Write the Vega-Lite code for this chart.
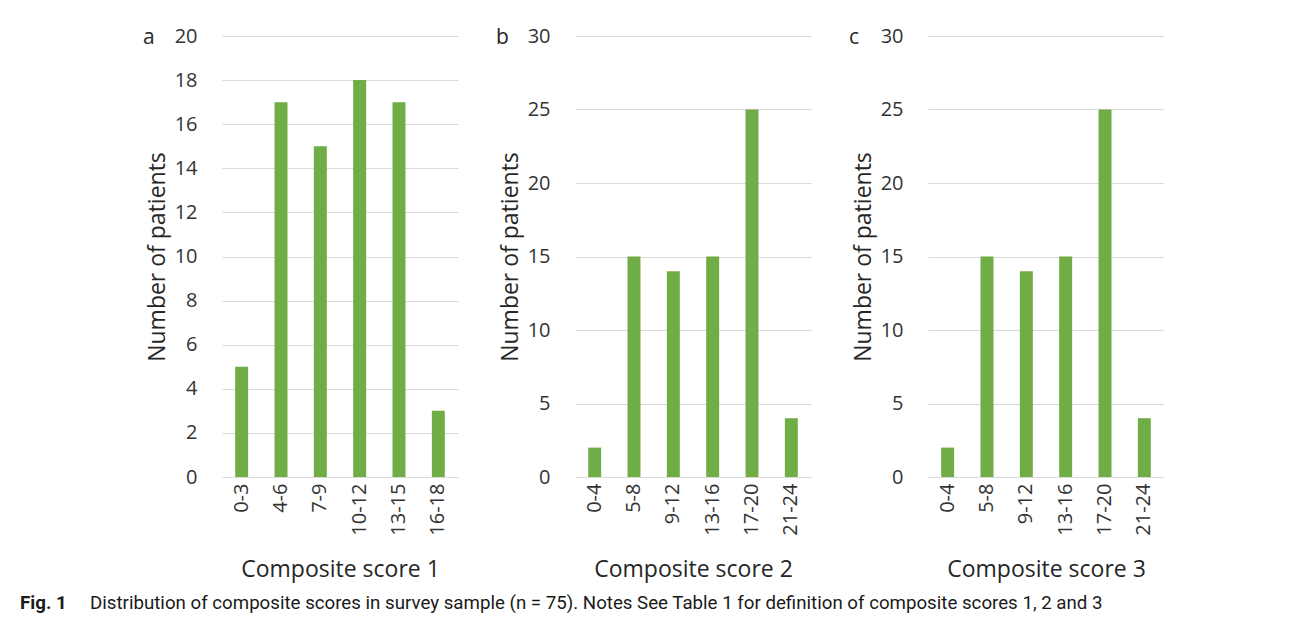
{
  "$schema": "https://vega.github.io/schema/vega-lite/v6.json",
  "padding": {"left": 20, "top": 26, "right": 0, "bottom": 0},
  "background": "white",
  "datasets": {
    "s1": [
      {"range": "0-3", "patients": 5},
      {"range": "4-6", "patients": 17},
      {"range": "7-9", "patients": 15},
      {"range": "10-12", "patients": 18},
      {"range": "13-15", "patients": 17},
      {"range": "16-18", "patients": 3}
    ],
    "s2": [
      {"range": "0-4", "patients": 2},
      {"range": "5-8", "patients": 15},
      {"range": "9-12", "patients": 14},
      {"range": "13-16", "patients": 15},
      {"range": "17-20", "patients": 25},
      {"range": "21-24", "patients": 4}
    ],
    "s3": [
      {"range": "0-4", "patients": 2},
      {"range": "5-8", "patients": 15},
      {"range": "9-12", "patients": 14},
      {"range": "13-16", "patients": 15},
      {"range": "17-20", "patients": 25},
      {"range": "21-24", "patients": 4}
    ]
  },
  "title": {
    "text": "Fig. 1",
    "subtitle": "\u2800\u2800\u2800\u2800\u2800Distribution of composite scores in survey sample (n = 75). Notes See Table 1 for definition of composite scores 1, 2 and 3",
    "orient": "bottom",
    "anchor": "start",
    "frame": "group",
    "dx": -202,
    "offset": 13,
    "font": "Roboto",
    "fontSize": 18.7,
    "fontWeight": "bold",
    "color": "#1a1a1a",
    "subtitleFont": "Roboto",
    "subtitleFontSize": 18.7,
    "subtitleFontWeight": "normal",
    "subtitleColor": "#1a1a1a",
    "subtitlePadding": -18.7
  },
  "hconcat": [
    {
      "data": {"name": "s1"},
      "width": 236,
      "height": 441,
      "title": {"text": "a", "anchor": "start", "frame": "group", "dx": -79, "dy": 33, "offset": 0, "baseline": "middle"},
      "mark": {"type": "bar", "color": "#70ad47"},
      "encoding": {
        "x": {"field": "range", "type": "nominal", "sort": null, "title": "Composite score 1",
              "scale": {"paddingInner": 0.67, "paddingOuter": 0.335}},
        "y": {"field": "patients", "type": "quantitative", "title": "Number of patients",
              "scale": {"domain": [0, 20], "nice": false},
              "axis": {"values": [0, 2, 4, 6, 8, 10, 12, 14, 16, 18, 20]}}
      }
    },
    {
      "data": {"name": "s2"},
      "width": 236,
      "height": 441,
      "title": {"text": "b", "anchor": "start", "frame": "group", "dx": -79, "dy": 33, "offset": 0, "baseline": "middle"},
      "mark": {"type": "bar", "color": "#70ad47"},
      "encoding": {
        "x": {"field": "range", "type": "nominal", "sort": null, "title": "Composite score 2",
              "scale": {"paddingInner": 0.67, "paddingOuter": 0.335}},
        "y": {"field": "patients", "type": "quantitative", "title": "Number of patients",
              "scale": {"domain": [0, 30], "nice": false},
              "axis": {"values": [0, 5, 10, 15, 20, 25, 30]}}
      }
    },
    {
      "data": {"name": "s3"},
      "width": 236,
      "height": 441,
      "title": {"text": "c", "anchor": "start", "frame": "group", "dx": -79, "dy": 33, "offset": 0, "baseline": "middle"},
      "mark": {"type": "bar", "color": "#70ad47"},
      "encoding": {
        "x": {"field": "range", "type": "nominal", "sort": null, "title": "Composite score 3",
              "scale": {"paddingInner": 0.67, "paddingOuter": 0.335}},
        "y": {"field": "patients", "type": "quantitative", "title": "Number of patients",
              "scale": {"domain": [0, 30], "nice": false},
              "axis": {"values": [0, 5, 10, 15, 20, 25, 30]}}
      }
    }
  ],
  "spacing": 117,
  "bounds": "flush",
  "config": {
    "font": "Open Sans",
    "view": {"stroke": null},
    "title": {"font": "Open Sans", "fontSize": 21, "fontWeight": "normal", "color": "#262626"},
    "axis": {
      "labelFont": "Open Sans",
      "titleFont": "Open Sans",
      "labelFontSize": 20,
      "titleFontSize": 23,
      "labelColor": "#333333",
      "titleColor": "#262626",
      "titleFontWeight": "normal",
      "ticks": false,
      "domain": false,
      "gridColor": "#d9d9d9",
      "gridWidth": 1.2
    },
    "axisY": {"labelPadding": 25, "titlePadding": 5},
    "axisX": {"labelAngle": -90, "labelPadding": 6, "titlePadding": 23, "grid": false}
  }
}
